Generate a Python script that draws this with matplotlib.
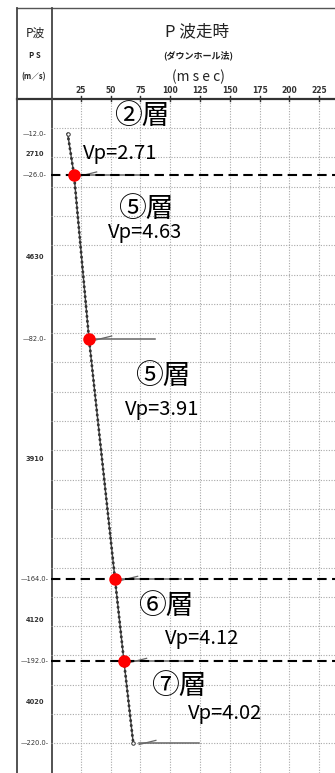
import matplotlib.pyplot as plt
from matplotlib.transforms import blended_transform_factory

plt.rcParams['font.family'] = ['Noto Sans CJK JP', 'DejaVu Sans']

# 層境界の深度 (m) と各区間のP波速度 (m/s)
boundaries = [12, 26, 82, 164, 192, 220]
ps_values = [2710, 4630, 3910, 4120, 4020]
layer_names = ['②層', '⑤層', '⑤層', '⑥層', '⑦層']

# 走時曲線 (ダウンホール法), 深度と走時 msec
curve_depth = [12, 26, 82, 164, 192, 220]
curve_time = [14.0, 19.3, 31.9, 53.7, 61.2, 69.0]

red_depth = [26, 82, 164, 192]
dash_depth = [26, 164, 192]
pointer_depth = [26, 82, 164, 192, 220]

time_ticks = [25, 50, 75, 100, 125, 150, 175, 200, 225]
depth_grid = list(range(10, 230, 10))

# 注記の位置 (走時, 深度)
name_pos = [(76.3, 5.9), (79.3, 37.5), (94.0, 94.7), (96.5, 173.0), (107.4, 200.4)]
vp_pos = [(26.8, 20.6), (48.0, 47.5), (62.1, 108.0), (95.6, 186.1), (114.9, 211.7)]

W, H = 335, 773
X0, Y0 = 51, 98.7

fig = plt.figure(figsize=(W / 100, H / 100), dpi=100)

# 枠線とヘッダー (ピクセル座標)
bg = fig.add_axes([0, 0, 1, 1])
bg.set_xlim(0, W)
bg.set_ylim(H, 0)
bg.axis('off')
bg.plot([17, W], [8, 8], color='#555555', lw=1.0)
bg.plot([17, W], [Y0, Y0], color='#333333', lw=1.6)
bg.plot([17, 17], [8, H], color='#444444', lw=1.3)
bg.plot([52, 52], [8, H], color='#444444', lw=1.3)

bg.text(35, 33, 'P波', fontsize=8.5, ha='center', va='center', color='#222222')
bg.text(35, 56, 'P S', fontsize=5.5, ha='center', va='center', color='#222222', weight='bold')
bg.text(34, 77, '(m／s)', fontsize=5.5, ha='center', va='center', color='#222222', weight='bold')
bg.text(197, 32, 'P 波走時', fontsize=12, ha='center', va='center', color='#222222')
bg.text(198, 55, '(ダウンホール法)', fontsize=6.5, ha='center', va='center', color='#222222', weight='bold')
bg.text(198, 77, '(m s e c)', fontsize=10, ha='center', va='center', color='#222222')

# グラフ本体
ax = fig.add_axes([X0 / W, 0, (W - X0) / W, (H - Y0) / H])
ax.set_xlim(0, (W - X0) / 1.192)
ax.set_ylim((H - Y0) / 2.93, 0)
ax.axis('off')

for t in time_ticks:
    ax.axvline(t, color='#a8a8a8', lw=0.8, ls=(0, (1, 1.4)), zorder=1)
    ax.plot([t, t], [-1.0, 0.8], color='#333333', lw=1.0, clip_on=False)
    ax.text(t, -2.9, str(t), fontsize=5.5, ha='center', va='center',
            color='#333333', weight='bold', family='DejaVu Sans', clip_on=False)
for d in depth_grid:
    ax.axhline(d, color='#a8a8a8', lw=0.8, ls=(0, (1, 1.4)), zorder=1)

# 左欄: 深度と速度
trans = blended_transform_factory(ax.transAxes, ax.transData)
xl = (35 - X0) / (W - X0)
for d in boundaries:
    ax.text(xl, d, f'—{d}.0-', transform=trans, fontsize=4.8, ha='center', va='center',
            color='#333333', family='DejaVu Sans', clip_on=False)
for i, v in enumerate(ps_values):
    mid = (boundaries[i] + boundaries[i + 1]) / 2
    ax.text(xl, mid, str(v), transform=trans, fontsize=4.8, ha='center', va='center',
            color='#333333', weight='bold', family='DejaVu Sans', clip_on=False)

# 層境界の破線
for d in dash_depth:
    ax.axhline(d, color='black', lw=1.5, ls=(0, (4.5, 2.6)), zorder=3)

# 走時曲線
ax.plot(curve_time, curve_depth, color='#444444', lw=1.0, zorder=4)
ax.plot(curve_time, curve_depth, color='#333333', lw=2.1, ls=(0, (0.1, 1.6)),
        dash_capstyle='round', zorder=4)
ax.plot([curve_time[0], curve_time[-1]], [curve_depth[0], curve_depth[-1]], 'o',
        ms=2.5, mfc='white', mec='#333333', mew=0.7, zorder=5)

# 読み取り位置の指示線
for d in pointer_depth:
    t = curve_time[curve_depth.index(d)]
    ax.plot([t + 5, t + 55], [d, d], color='#666666', lw=1.1, zorder=2)
    ax.plot([t + 5, t + 19], [d + 0.4, d - 1.0], color='#666666', lw=0.9, zorder=2)

red_time = [curve_time[curve_depth.index(d)] for d in red_depth]
ax.plot(red_time, red_depth, 'o', color='red', ms=8, zorder=6)

# 層名と速度の注記
for name, (tx, ty) in zip(layer_names, name_pos):
    ax.text(tx, ty, name, fontsize=20, ha='center', va='center', color='black', zorder=7)
for v, (tx, ty) in zip(ps_values, vp_pos):
    ax.text(tx, ty, f'Vp={v / 1000:.2f}', fontsize=14.5, ha='left', va='baseline',
            color='black', zorder=7)

fig.savefig('out.png', dpi=100)
